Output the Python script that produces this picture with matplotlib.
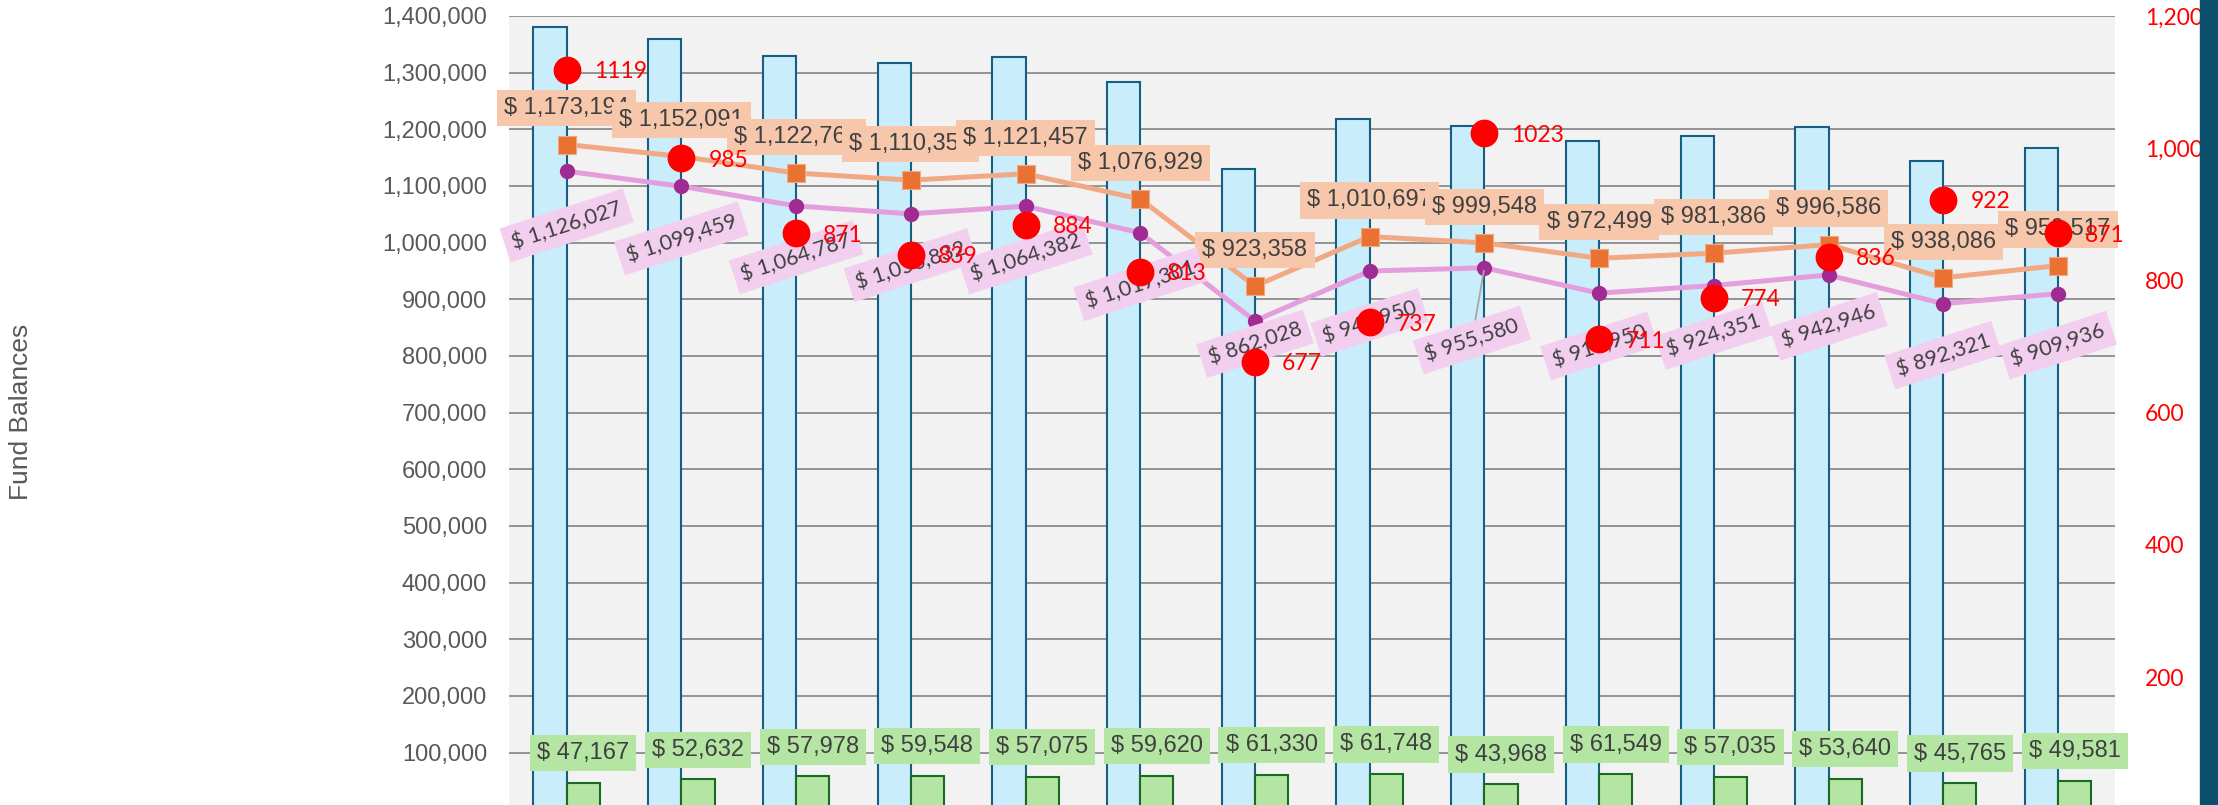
import matplotlib
matplotlib.use('Agg')
import matplotlib.pyplot as plt
import numpy as np
from matplotlib.ticker import FuncFormatter, FixedLocator
from matplotlib.patches import Rectangle

# ---------------- data ----------------
periods = list(range(1, 15))  # category labels are cropped out of the reference
total_balance = [1380000, 1358800, 1329400, 1317600, 1328200, 1284100, 1130000,
                 1218200, 1206500, 1179400, 1188200, 1203500, 1144500, 1166400]
small_fund = [47167, 52632, 57978, 59548, 57075, 59620, 61330,
              61748, 43968, 61549, 57035, 53640, 45765, 49581]
orange_series = [1173194, 1152091, 1122763, 1110352, 1121457, 1076929, 923358,
                 1010697, 999548, 972499, 981386, 996586, 938086, 959517]
purple_series = [1126027, 1099459, 1064787, 1050832, 1064382, 1017301, 862028,
                 949950, 955580, 910950, 924351, 942946, 892321, 909936]
red_counts = [1119, 985, 871, 839, 884, 813, 677, 737, 1023, 711, 774, 836, 922, 871]
left_ticks = list(range(100000, 1400001, 100000))
right_ticks = list(range(200, 1201, 200))

# ---------------- style ----------------
W, H = 2218, 805
fig = plt.figure(figsize=(W / 100, H / 100), dpi=100)
L, R, T, B = 509.3, 2115.3, 16.0, 809.3
ax = fig.add_axes([L / W, (H - B) / H, (R - L) / W, (B - T) / H])
ax.set_facecolor('#F2F2F2')
for s in ax.spines.values():
    s.set_visible(False)

n = len(periods)
x = np.arange(n)
bw = 0.29
ax.bar(x - bw / 2, total_balance, width=bw, color='#CAEDFB', edgecolor='#156082',
       linewidth=1.5, zorder=2)
ax.bar(x + bw / 2, small_fund, width=bw, color='#B4E5A2', edgecolor='#196B24',
       linewidth=1.5, zorder=2)
ax.plot(x, orange_series, color='#F1A983', lw=3.6, marker='s', ms=13,
        mfc='#E97132', mec='#F1A983', mew=0.8, zorder=3)
ax.plot(x, purple_series, color='#E59EDD', lw=3.6, marker='o', ms=10,
        mfc='#A02B93', mec='#A02B93', zorder=3)

ax.set_xlim(-0.5, n - 0.5)
ax.set_ylim(0, 1400000)
ax.yaxis.set_major_locator(FixedLocator(left_ticks))
ax.yaxis.set_major_formatter(FuncFormatter(lambda v, p: f'{v:,.0f}'))
ax.set_xticks(x)
ax.tick_params(axis='x', length=0, labelbottom=False)
ax.tick_params(axis='y', length=0, pad=16, labelsize=17, labelcolor='#595959')
for t in ax.get_yticklabels():
    t.set_family('Liberation Sans')
ax.grid(axis='y', color='#8C8C8C', lw=1.3, zorder=0)
ax.set_axisbelow(True)

lab_font = dict(fontsize=17, color='#404040', family='Liberation Sans')
for xi, v in zip(x, orange_series):
    ax.annotate(f'$ {v:,}', (xi, v), xytext=(0, 26), textcoords='offset points',
                ha='center', va='center', zorder=5, **lab_font,
                bbox=dict(boxstyle='square,pad=0.3', fc='#F7C7AC', ec='none'))

for xi, v in zip(x, small_fund):
    ax.annotate(f'$ {v:,}', (xi + bw / 2, v), xytext=(0, 21.5), textcoords='offset points',
                ha='center', va='center', zorder=5, **lab_font,
                bbox=dict(boxstyle='square,pad=0.3', fc='#B4E5A2', ec='none'))

pink_offsets = [(0, -39), (0, -37.5), (0, -37), (0, -37), (0, -37), (0, -37), (0, -16.5),
                (0, -37), (-9, -52), (0, -38), (0, -36), (0, -37), (0, -37), (0, -37)]
for i, (xi, v) in enumerate(zip(x, purple_series)):
    arrow = None
    if i == 8:
        arrow = dict(arrowstyle='-', color='#A6A6A6', lw=1.3, shrinkA=0, shrinkB=2)
    ax.annotate(f'$ {v:,}', (xi, v), xytext=pink_offsets[i], textcoords='offset points',
                ha='center', va='center', rotation=18, rotation_mode='anchor',
                fontsize=15.5, color='#404040', family='Lato', zorder=5,
                bbox=dict(boxstyle='square,pad=0.35', fc='#F2CEEF', ec='none'),
                arrowprops=arrow)

ax2 = ax.twinx()
for s in ax2.spines.values():
    s.set_visible(False)
ax2.set_ylim(0, 1200)
ax2.yaxis.set_major_locator(FixedLocator(right_ticks))
ax2.yaxis.set_major_formatter(FuncFormatter(lambda v, p: f'{v:,.0f}'))
ax2.tick_params(axis='y', length=0, pad=21.5, labelsize=16.5, labelcolor='#FF0000')
for t in ax2.get_yticklabels():
    t.set_family('Lato')
ax2.plot(x, red_counts, 'o', ms=19, color='#FF0000', zorder=4)
for xi, v in zip(x, red_counts):
    ax2.annotate(f'{v}', (xi, v), xytext=(19.5, -1.5), textcoords='offset points',
                 ha='left', va='center', color='#FF0000', fontsize=16.5, family='Lato',
                 zorder=6)

fig.text(21 / W, (H - 412) / H, 'Fund Balances', rotation=90, ha='center', va='center',
         fontsize=19, color='#595959', family='Liberation Sans')
fig.patches.append(Rectangle((2200 / W, 0), 18 / W, 1, transform=fig.transFigure,
                             color='#0B4F6C', zorder=10))

fig.savefig('out.png', dpi=100)
